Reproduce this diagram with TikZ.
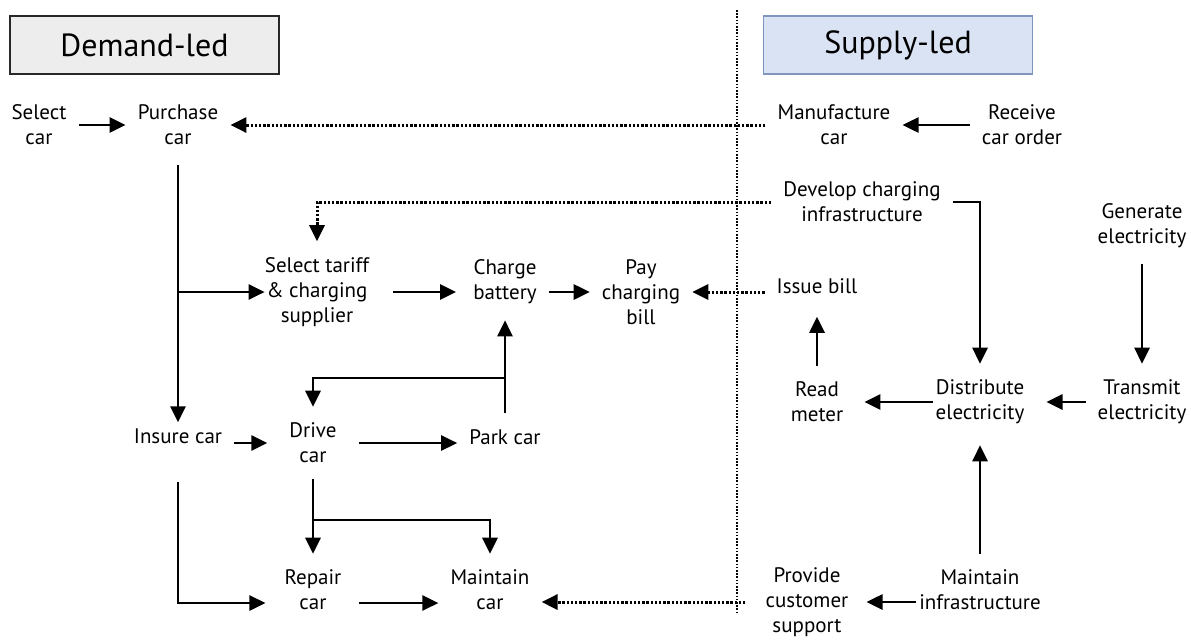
\documentclass[tikz,border=0pt]{standalone}
\usepackage{fontspec}
\setmainfont{PT Sans}
\usepackage{tikz}
\usetikzlibrary{positioning,calc}
\usetikzlibrary{arrows.meta}
\definecolor{demandfill}{RGB}{237,237,237}
\definecolor{demandline}{RGB}{40,40,40}
\definecolor{supplyfill}{RGB}{218,227,243}
\definecolor{supplyline}{RGB}{128,150,190}

\begin{document}
\begin{tikzpicture}[
  x = 1pt,
  y = -1pt,
  act/.style = {
    align = center,
    font = \fontsize{21}{25}\selectfont,
    inner xsep = 12pt,
    inner ysep = 16pt,
  },
  head/.style = {
    draw,
    rectangle,
    line width = 1.5pt,
    minimum width = 269pt,
    minimum height = 58pt,
    font = \fontsize{32}{38}\selectfont,
  },
  flow/.style = {
    draw,
    line width = 2.7pt,
    ->,
  },
  hint/.style = {
    flow,
    line width = 3pt,
    dash pattern = on 2.4pt off 1.8pt,
  },
  divider/.style = {
    draw,
    line width = 1.6pt,
    dash pattern = on 1.6pt off 1.6pt,
  },
  >={Triangle[length=16pt,width=15pt]},
]

  \useasboundingbox (0,0) rectangle (1191,640);

  % headings
  \node[head,fill=demandfill,draw=demandline] (dem) at (144.5,45) {Demand-led};
  \node[head,fill=supplyfill,draw=supplyline] (sup) at (898,45) {Supply-led};

  \coordinate (divtop) at (737,10);
  \coordinate (divbot) at (737,613);
  \path[divider] (divtop) -- (divbot);

  % demand side
  \node[act] (sel)  at (39,125)  {Select\\car};
  \node[act] (pur)  at (178,125) {Purchase\\car};
  \node[act] (tar)  at (317,292) {Select tariff\\\& charging\\supplier};
  \node[act] (chg)  at (505,282) {Charge\\battery};
  \node[act] (pay)  at (641,292) {Pay\\charging\\bill};
  \node[act] (ins)  at (178,436) {Insure car};
  \node[act] (drv)  at (313,443) {Drive\\car};
  \node[act] (prk)  at (505,437) {Park car};
  \node[act] (rep)  at (313,590) {Repair\\car};
  \node[act] (mcar) at (490,590) {Maintain\\car};

  % supply side
  \node[act] (man)  at (834,125)  {Manufacture\\car};
  \node[act] (rcv)  at (1022,125) {Receive\\car order};
  \node[act] (dev)  at (862,202)  {Develop charging\\infrastructure};
  \node[act] (gen)  at (1142,226) {Generate\\electricity};
  \node[act] (iss)  at (817,286)  {Issue bill};
  \node[act] (rdm)  at (817,402)  {Read\\meter};
  \node[act] (dst)  at (980,402)  {Distribute\\electricity};
  \node[act] (trn)  at (1142,402) {Transmit\\electricity};
  \node[act] (cus)  at (807,602)  {Provide\\customer\\support};
  \node[act] (minf) at (980,590)  {Maintain\\infrastructure};

  \coordinate (parksplit) at (505,378);
  \coordinate (drivesplit) at (313,520);

  % demand flows
  \path[flow] (sel) -- (pur);
  \path[flow,shorten <=4pt,shorten >=-10pt] (pur.south) -- (pur.south |- ins.north);
  \path[flow,shorten >=-12pt] (pur.south |- tar) -- (tar.west);
  \path[flow,shorten <=12pt,shorten >=5pt] (tar.east) -- (tar.east -| chg.west);
  \path[flow] (chg.east |- pay) -- (pay.west);
  \path[flow] (prk) -- (chg);
  \path[flow] (parksplit) -| (drv.north);
  \path[flow,shorten >=10pt] (ins.east |- drv) -- (drv.west);
  \path[flow,shorten <=10pt] (drv.east) -- (drv.east -| prk.west);
  \path[flow] (drv) -- (rep);
  \path[flow] (drivesplit) -| (mcar.north);
  \path[flow,shorten <=22pt,shorten >=7pt] (ins.south) |- ([yshift=-13pt]rep.west);
  \path[flow,shorten <=5pt] ([yshift=-13pt]rep.east) -- ([yshift=-13pt]mcar.west);

  % supply flows
  \path[flow] (rcv) -- (man);
  \path[flow] (dev.east) -| (dst.north);
  \path[flow] (gen) -- (trn);
  \path[flow,shorten >=10pt] (trn) -- (dst);
  \path[flow,shorten <=-9pt,shorten >=9pt] (dst) -- (rdm);
  \path[flow,shorten >=7pt] (rdm) -- (iss);
  \path[flow,shorten >=5pt] (minf) -- (dst);
  \path[flow,shorten <=-9pt,shorten >=6pt] (minf.west |- cus) -- (cus.east);

  % across the divide
  \path[hint] (man) -- (pur);
  \path[hint] (dev.west) -| (tar.north);
  \path[hint] (iss.west |- pay) -- (pay.east);
  \path[hint,shorten <=8pt] (cus.west) -- (cus.west -| mcar.east);

\end{tikzpicture}
\end{document}
